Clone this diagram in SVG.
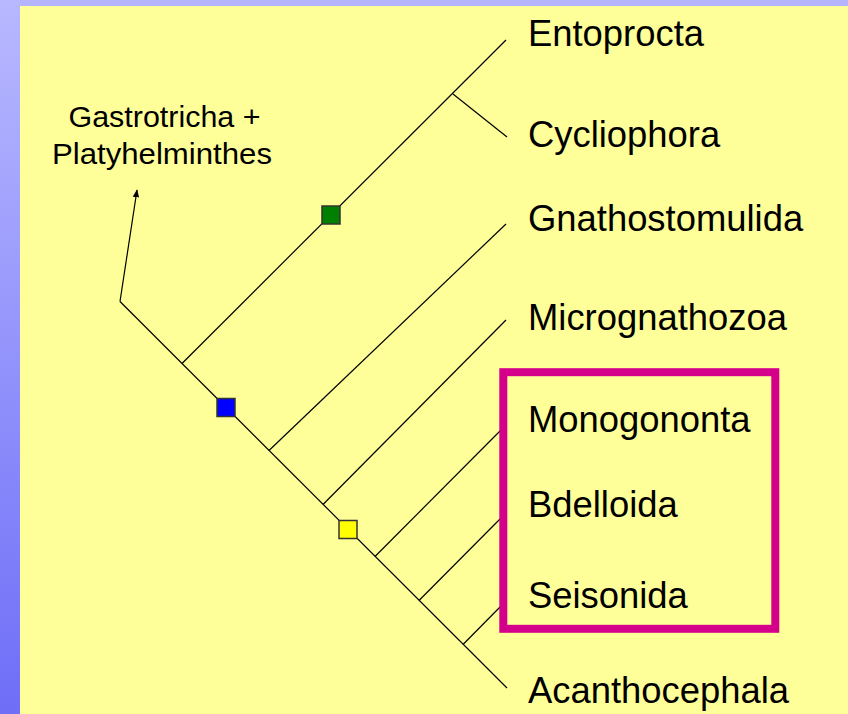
<svg xmlns="http://www.w3.org/2000/svg" width="848" height="714" viewBox="0 0 848 714">
<defs>
<linearGradient id="side" x1="0" y1="0" x2="0" y2="1">
<stop offset="0" stop-color="#b8b8ff"/>
<stop offset="1" stop-color="#6e6ef8"/>
</linearGradient>
<marker id="arr" viewBox="0 0 10 10" refX="9" refY="5" markerWidth="8" markerHeight="8" markerUnits="userSpaceOnUse" orient="auto">
<path d="M0,1 L10,5 L0,9 Z" fill="#000"/>
</marker>
<style>
.br{stroke:#000;stroke-width:1.2;fill:none}
.lbl{font-family:"Liberation Sans",Arial,sans-serif;font-size:36.4px;fill:#000}
.sm{font-family:"Liberation Sans",Arial,sans-serif;font-size:29.5px;fill:#000;text-anchor:middle}
.sq{stroke:#333;stroke-width:1.5}
</style>
</defs>
<rect x="0" y="0" width="848" height="714" fill="#b5b5ff"/>
<rect x="0" y="0" width="20" height="714" fill="url(#side)"/>
<rect x="20" y="6" width="828" height="708" fill="#ffff99"/>

<g id="connectors">
<line class="br" x1="120" y1="301.5" x2="507" y2="688"/>
<line class="br" x1="182" y1="363.5" x2="506" y2="40"/>
<line class="br" x1="453" y1="94" x2="507" y2="137"/>
<line class="br" x1="269" y1="450.5" x2="506" y2="224"/>
<line class="br" x1="323" y1="504.5" x2="506" y2="320"/>
<line class="br" x1="375" y1="556.5" x2="503" y2="428"/>
<line class="br" x1="419" y1="600.5" x2="503" y2="516"/>
<line class="br" x1="463" y1="644.5" x2="503" y2="604"/>
<line class="br" x1="120" y1="301.5" x2="137" y2="190" marker-end="url(#arr)"/>
</g>

<g id="node-markers">
<rect class="sq" x="322" y="206" width="18" height="18" fill="#008000"/>
<rect class="sq" x="217" y="398.5" width="18" height="18" fill="#0000ff"/>
<rect class="sq" x="339" y="520.5" width="18" height="18" fill="#ffff00"/>
</g>

<g id="rotifera-box">
<rect x="503.3" y="372.2" width="272" height="256.6" fill="none" stroke="#d4008c" stroke-width="8"/>
</g>

<g id="outgroup">
<text class="sm" x="164.5" y="127" textLength="192" lengthAdjust="spacingAndGlyphs">Gastrotricha +</text>
<text class="sm" x="162" y="164" textLength="220" lengthAdjust="spacingAndGlyphs">Platyhelminthes</text>
</g>
<g id="taxon-entoprocta"><text class="lbl" x="528" y="46">Entoprocta</text></g>
<g id="taxon-cycliophora"><text class="lbl" x="528" y="147">Cycliophora</text></g>
<g id="taxon-gnathostomulida"><text class="lbl" x="528" y="231">Gnathostomulida</text></g>
<g id="taxon-micrognathozoa"><text class="lbl" x="528" y="330">Micrognathozoa</text></g>
<g id="taxon-monogononta"><text class="lbl" x="528" y="432">Monogononta</text></g>
<g id="taxon-bdelloida"><text class="lbl" x="528" y="517">Bdelloida</text></g>
<g id="taxon-seisonida"><text class="lbl" x="528" y="608">Seisonida</text></g>
<g id="taxon-acanthocephala"><text class="lbl" x="528" y="703">Acanthocephala</text></g>
</svg>
